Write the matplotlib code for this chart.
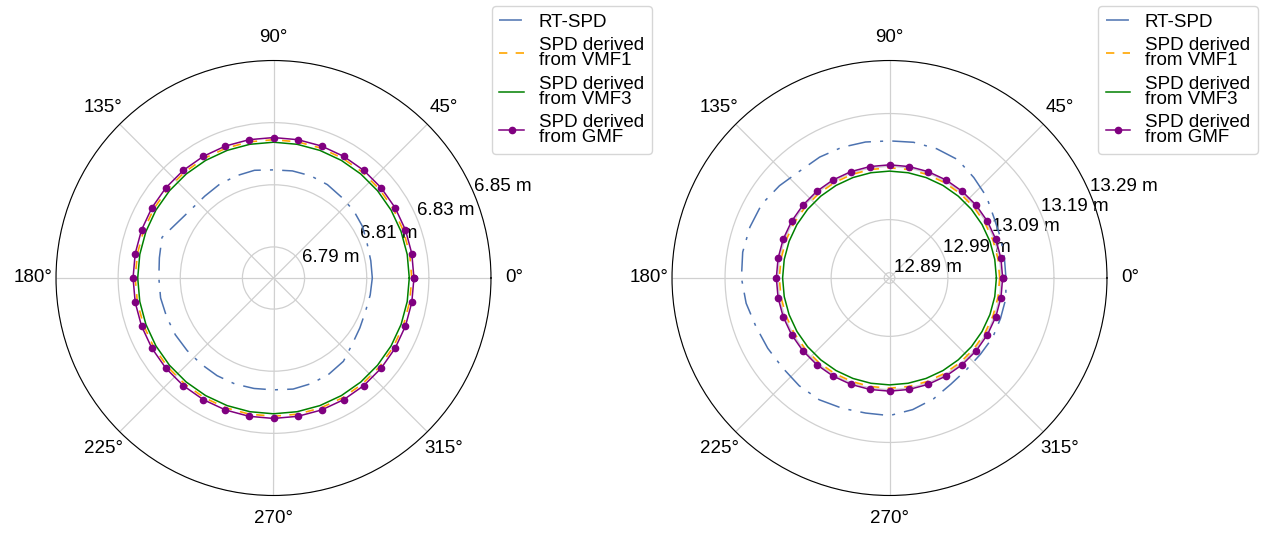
import numpy as np
import matplotlib.pyplot as plt

plt.rcParams['font.family'] = ['Liberation Sans', 'DejaVu Sans']
plt.rcParams['font.size'] = 13.5

azimuth_deg = [0, 10, 20, 30, 40, 50, 60, 70, 80, 90, 100, 110,
               120, 130, 140, 150, 160, 170, 180, 190, 200, 210, 220, 230,
               240, 250, 260, 270, 280, 290, 300, 310, 320, 330, 340, 350]

# left panel (m)
rt_left = [6.8118, 6.8118, 6.8121, 6.8131, 6.8137, 6.8140, 6.8147, 6.8150, 6.8150, 6.8148, 6.8152, 6.8150,
           6.8148, 6.8144, 6.8145, 6.8157, 6.8182, 6.8173, 6.8169, 6.8169, 6.8166, 6.8165, 6.8163, 6.8162,
           6.8163, 6.8163, 6.8161, 6.8160, 6.8163, 6.8161, 6.8157, 6.8150, 6.8131, 6.8121, 6.8115, 6.8116]
vmf1_left = [6.8245, 6.8245, 6.8245, 6.8245, 6.8245, 6.8245, 6.8245, 6.8245, 6.8245, 6.8245, 6.8245, 6.8245,
             6.8245, 6.8245, 6.8245, 6.8245, 6.8245, 6.8245, 6.8245, 6.8245, 6.8245, 6.8245, 6.8245, 6.8245,
             6.8245, 6.8245, 6.8245, 6.8245, 6.8245, 6.8245, 6.8245, 6.8245, 6.8245, 6.8245, 6.8245, 6.8245]
vmf3_left = [6.8237, 6.8237, 6.8237, 6.8237, 6.8237, 6.8237, 6.8237, 6.8237, 6.8237, 6.8237, 6.8237, 6.8237,
             6.8237, 6.8237, 6.8237, 6.8237, 6.8237, 6.8237, 6.8237, 6.8237, 6.8237, 6.8237, 6.8237, 6.8237,
             6.8237, 6.8237, 6.8237, 6.8237, 6.8237, 6.8237, 6.8237, 6.8237, 6.8237, 6.8237, 6.8237, 6.8237]
gmf_left = [6.8252, 6.8252, 6.8252, 6.8252, 6.8252, 6.8252, 6.8252, 6.8252, 6.8252, 6.8252, 6.8252, 6.8252,
            6.8252, 6.8252, 6.8252, 6.8252, 6.8252, 6.8252, 6.8252, 6.8252, 6.8252, 6.8252, 6.8252, 6.8252,
            6.8252, 6.8252, 6.8252, 6.8252, 6.8252, 6.8252, 6.8252, 6.8252, 6.8252, 6.8252, 6.8252, 6.8252]
rticks_left = [6.79, 6.81, 6.83, 6.85]
rlim_left = (6.78, 6.85)

# right panel (m)
rt_right = [13.0995, 13.0999, 13.1027, 13.1074, 13.1187, 13.1272, 13.1375, 13.1394, 13.1398, 13.1385, 13.1403, 13.1422,
            13.1432, 13.1432, 13.1507, 13.1582, 13.1601, 13.1610, 13.1591, 13.1544, 13.1479, 13.1450, 13.1432, 13.1450,
            13.1450, 13.1413, 13.1385, 13.1394, 13.1319, 13.1225, 13.1112, 13.1056, 13.1037, 13.1046, 13.1027, 13.1027]
vmf1_right = [13.0877, 13.0877, 13.0877, 13.0877, 13.0877, 13.0877, 13.0877, 13.0877, 13.0877, 13.0877, 13.0877, 13.0877,
              13.0877, 13.0877, 13.0877, 13.0877, 13.0877, 13.0877, 13.0877, 13.0877, 13.0877, 13.0877, 13.0877, 13.0877,
              13.0877, 13.0877, 13.0877, 13.0877, 13.0877, 13.0877, 13.0877, 13.0877, 13.0877, 13.0877, 13.0877, 13.0877]
vmf3_right = [13.0815, 13.0815, 13.0815, 13.0815, 13.0815, 13.0815, 13.0815, 13.0815, 13.0815, 13.0815, 13.0815, 13.0815,
              13.0815, 13.0815, 13.0815, 13.0815, 13.0815, 13.0815, 13.0815, 13.0815, 13.0815, 13.0815, 13.0815, 13.0815,
              13.0815, 13.0815, 13.0815, 13.0815, 13.0815, 13.0815, 13.0815, 13.0815, 13.0815, 13.0815, 13.0815, 13.0815]
gmf_right = [13.0933, 13.0933, 13.0933, 13.0933, 13.0933, 13.0933, 13.0933, 13.0933, 13.0933, 13.0933, 13.0933, 13.0933,
             13.0933, 13.0933, 13.0933, 13.0933, 13.0933, 13.0933, 13.0933, 13.0933, 13.0933, 13.0933, 13.0933, 13.0933,
             13.0933, 13.0933, 13.0933, 13.0933, 13.0933, 13.0933, 13.0933, 13.0933, 13.0933, 13.0933, 13.0933, 13.0933]
rticks_right = [12.89, 12.99, 13.09, 13.19, 13.29]
rlim_right = (12.88, 13.29)

labels = ["RT-SPD", "SPD derived\nfrom VMF1", "SPD derived\nfrom VMF3", "SPD derived\nfrom GMF"]


def closed(vals):
    return list(vals) + [vals[0]]


def plot_panel(ax, rt, vmf1, vmf3, gmf, rticks, rlim):
    theta = np.deg2rad(closed(azimuth_deg))
    ax.plot(theta, closed(rt), color='#4c72b0', lw=1.1, dashes=(15, 6, 2, 6), label=labels[0])
    ax.plot(theta, closed(vmf1), color='orange', lw=1.2, dashes=(5, 5), label=labels[1])
    ax.plot(theta, closed(vmf3), color='green', lw=1.1, label=labels[2])
    ax.plot(theta, closed(gmf), color='purple', lw=1.1, marker='o', markersize=4.5, label=labels[3])
    ax.set_ylim(*rlim)
    ax.set_yticks(rticks)
    ax.set_yticklabels([f"{t:.2f} m" for t in rticks])
    ax.grid(True, color='#d0d0d0', lw=0.9)
    ax.spines['polar'].set_color('black')
    ax.tick_params(axis='x', pad=6)


fig = plt.figure(figsize=(12.65, 5.34), dpi=100)
ax1 = fig.add_axes([56 / 1265, 38 / 534, 435 / 1265, 436 / 534], projection='polar')
ax2 = fig.add_axes([672 / 1265, 38 / 534, 435 / 1265, 436 / 534], projection='polar')

plot_panel(ax1, rt_left, vmf1_left, vmf3_left, gmf_left, rticks_left, rlim_left)
plot_panel(ax2, rt_right, vmf1_right, vmf3_right, gmf_right, rticks_right, rlim_right)

for ax, x0 in [(ax1, 492), (ax2, 1098)]:
    leg = ax.legend(loc='upper left', bbox_to_anchor=(x0 / 1265, 1 - 6 / 534),
                    bbox_transform=fig.transFigure, borderaxespad=0,
                    labelspacing=0.35, handlelength=1.3, handletextpad=0.8)
    for t in leg.get_texts():
        t.set_linespacing(0.85)

fig.savefig("out.png", dpi=100)
